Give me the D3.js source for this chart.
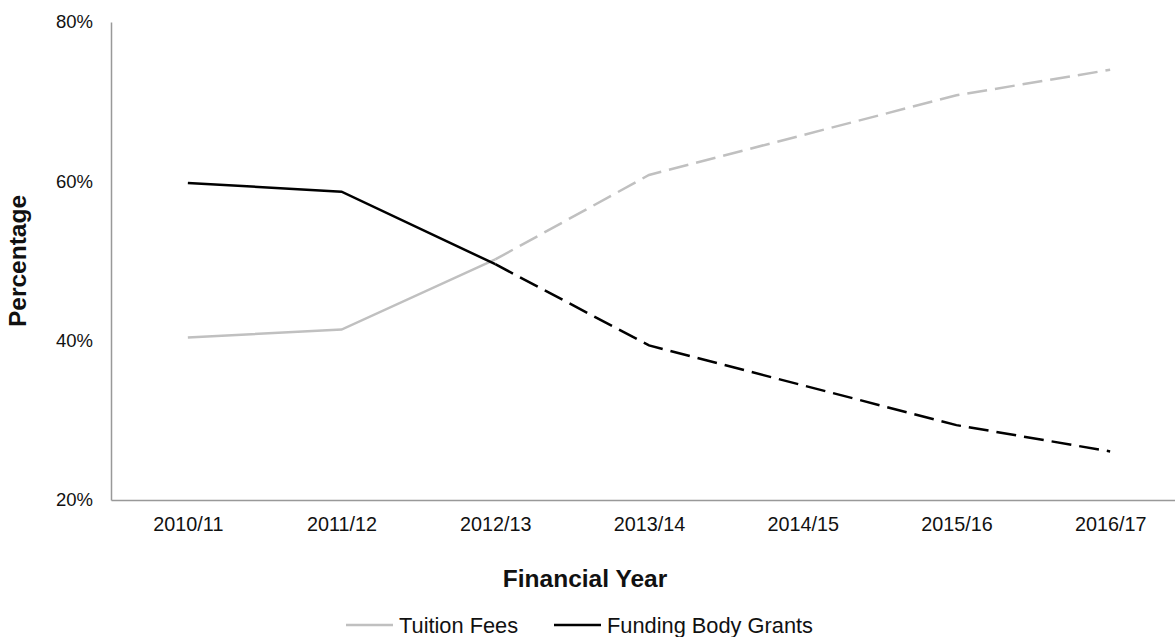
<!DOCTYPE html>
<html><head><meta charset="utf-8">
<script src="https://cdn.jsdelivr.net/npm/d3@7"></script>
<style>body{margin:0;background:#fff}svg{display:block;font-family:"Liberation Sans",Arial,sans-serif}</style>
</head><body>
<svg id="c" width="1175" height="637"></svg>
<script>
const categories = ["2010/11","2011/12","2012/13","2013/14","2014/15","2015/16","2016/17"];
const tuitionFees = [40.4, 41.4, 50.2, 60.8, 65.8, 70.8, 74.0];
const fundingGrants = [59.8, 58.7, 49.6, 39.4, 34.4, 29.4, 26.1];
const yTicks = [20, 40, 60, 80];
const solidUntil = 2; // solid actuals up to index 2, dashed afterwards

const svg = d3.select("#c");
const x = d3.scalePoint().domain(categories).range([111, 1187]).padding(0.5);
const y = d3.scaleLinear().domain([20, 80]).range([500, 22]);

// axes
const yAxis = svg.append("g").attr("transform","translate(111,0)")
  .call(d3.axisLeft(y).tickValues(yTicks).tickSize(0).tickPadding(18).tickFormat(d => d + "%"));
yAxis.select(".domain").attr("stroke","#999").attr("stroke-width",1.5);
yAxis.selectAll("text").attr("font-size",18.5).attr("fill","#111").attr("font-family","Liberation Sans, Arial");

const xAxis = svg.append("g").attr("transform","translate(0,500)")
  .call(d3.axisBottom(x).tickSize(0).tickPadding(17));
xAxis.select(".domain").attr("stroke","#999").attr("stroke-width",1.5);
xAxis.selectAll("text").attr("font-size",19.8).attr("fill","#111").attr("font-family","Liberation Sans, Arial");

// lines
const line = d3.line().x((d,i) => x(categories[d.i])).y(d => y(d.v));
function drawSeries(vals, color) {
  const pts = vals.map((v,i) => ({v, i}));
  svg.append("path").datum(pts.slice(0, solidUntil+1)).attr("d", line)
    .attr("fill","none").attr("stroke",color).attr("stroke-width",2.5);
  svg.append("path").datum(pts.slice(solidUntil)).attr("d", line)
    .attr("fill","none").attr("stroke",color).attr("stroke-width",2.5)
    .attr("stroke-dasharray","20,8");
}
drawSeries(tuitionFees, "#c0c0c0");
drawSeries(fundingGrants, "#000000");

// titles
svg.append("text").attr("x",585).attr("y",587).attr("text-anchor","middle")
  .attr("font-size",24.5).attr("font-weight","bold").attr("fill","#111").text("Financial Year");
svg.append("text").attr("transform","translate(26,261) rotate(-90)").attr("text-anchor","middle")
  .attr("font-size",24.5).attr("font-weight","bold").attr("fill","#111").text("Percentage");

// legend
const legend = [{name:"Tuition Fees", color:"#c0c0c0", x:346}, {name:"Funding Body Grants", color:"#000", x:554}];
legend.forEach(l => {
  svg.append("line").attr("x1",l.x).attr("x2",l.x+47).attr("y1",625).attr("y2",625)
    .attr("stroke",l.color).attr("stroke-width",2.5);
  svg.append("text").attr("x",l.x+53).attr("y",633).attr("font-size",21.8).attr("fill","#111").text(l.name);
});
</script>
</body></html>
